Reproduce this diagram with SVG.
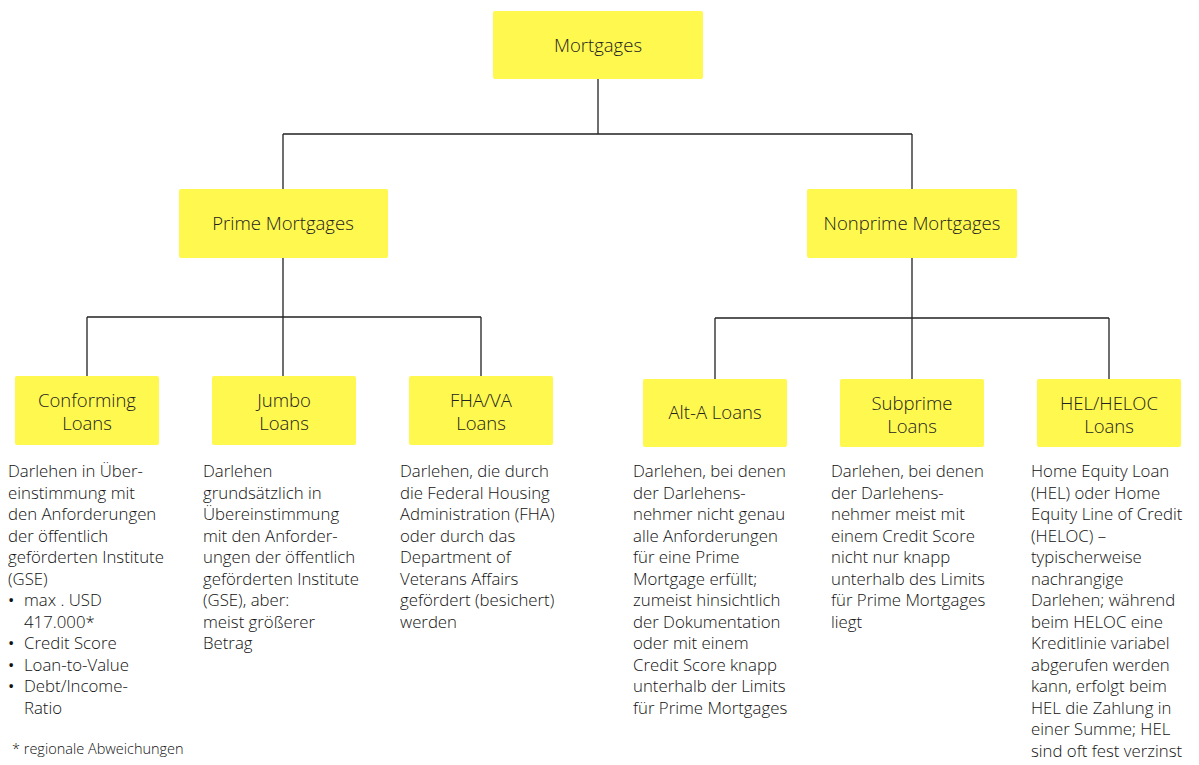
<svg xmlns="http://www.w3.org/2000/svg" width="1199" height="765" viewBox="0 0 1199 765">
<style>
.box{fill:#FFF84F;}
.lbl{font-family:"Open Sans","Liberation Sans",sans-serif;font-size:18.5px;font-weight:300;fill:#222;text-anchor:middle;}
.txt{font-family:"Open Sans","Liberation Sans",sans-serif;font-size:16.8px;font-weight:300;fill:#111;}
.bul{font-family:"Open Sans","Liberation Sans",sans-serif;font-size:16.8px;font-weight:400;fill:#111;}
.note{font-family:"Open Sans","Liberation Sans",sans-serif;font-size:14.5px;font-weight:300;fill:#111;}
.con{stroke:#222;stroke-width:1.3;fill:none;}
</style>
<rect width="1199" height="765" fill="#fff"/>
<g id="connectors">
<path class="con" d="M598 79V134M283 134H912M283 134V189M912 134V189"/>
<path class="con" d="M283 258V376M87 317H481M87 317V376M481 317V376"/>
<path class="con" d="M912 258V379M715 318H1109M715 318V379M1109 318V379"/>
</g>
<g id="mortgages"><rect class="box" x="493" y="11" width="210" height="68" rx="2"/><text class="lbl" x="598" y="52">Mortgages</text></g>
<g id="prime"><rect class="box" x="179" y="189" width="209" height="69" rx="2"/><text class="lbl" x="283" y="230">Prime Mortgages</text></g>
<g id="nonprime"><rect class="box" x="807" y="189" width="210" height="69" rx="2"/><text class="lbl" x="912" y="230">Nonprime Mortgages</text></g>
<g id="conforming"><rect class="box" x="15" y="376" width="144" height="69" rx="2"/><text class="lbl" x="87" y="407">Conforming</text><text class="lbl" x="87" y="430">Loans</text>
<text class="txt" x="8" y="477">Darlehen in Über-</text>
<text class="txt" x="8" y="498.5">einstimmung mit</text>
<text class="txt" x="8" y="520">den Anforderungen</text>
<text class="txt" x="8" y="541.5">der öffentlich</text>
<text class="txt" x="8" y="563">geförderten Institute</text>
<text class="txt" x="8" y="584.5">(GSE)</text>
<text class="bul" x="8" y="606">•</text><text class="txt" x="24" y="606">max . USD</text>
<text class="txt" x="24" y="627.5">417.000*</text>
<text class="bul" x="8" y="649">•</text><text class="txt" x="24" y="649">Credit Score</text>
<text class="bul" x="8" y="670.5">•</text><text class="txt" x="24" y="670.5">Loan-to-Value</text>
<text class="bul" x="8" y="692">•</text><text class="txt" x="24" y="692">Debt/Income-</text>
<text class="txt" x="24" y="713.5">Ratio</text>
<text class="note" x="12" y="754">* regionale Abweichungen</text>
</g>
<g id="jumbo"><rect class="box" x="212" y="376" width="144" height="69" rx="2"/><text class="lbl" x="284" y="407">Jumbo</text><text class="lbl" x="284" y="430">Loans</text>
<text class="txt" x="203" y="477">Darlehen</text>
<text class="txt" x="203" y="498.5">grundsätzlich in</text>
<text class="txt" x="203" y="520">Übereinstimmung</text>
<text class="txt" x="203" y="541.5">mit den Anforder-</text>
<text class="txt" x="203" y="563">ungen der öffentlich</text>
<text class="txt" x="203" y="584.5">geförderten Institute</text>
<text class="txt" x="203" y="606">(GSE), aber:</text>
<text class="txt" x="203" y="627.5">meist größerer</text>
<text class="txt" x="203" y="649">Betrag</text>
</g>
<g id="fhava"><rect class="box" x="409" y="376" width="144" height="69" rx="2"/><text class="lbl" x="481" y="407">FHA/VA</text><text class="lbl" x="481" y="430">Loans</text>
<text class="txt" x="400" y="477">Darlehen, die durch</text>
<text class="txt" x="400" y="498.5">die Federal Housing</text>
<text class="txt" x="400" y="520">Administration (FHA)</text>
<text class="txt" x="400" y="541.5">oder durch das</text>
<text class="txt" x="400" y="563">Department of</text>
<text class="txt" x="400" y="584.5">Veterans Affairs</text>
<text class="txt" x="400" y="606">gefördert (besichert)</text>
<text class="txt" x="400" y="627.5">werden</text>
</g>
<g id="alta"><rect class="box" x="643" y="379" width="144" height="68" rx="2"/><text class="lbl" x="715" y="419">Alt-A Loans</text>
<text class="txt" x="633" y="477">Darlehen, bei denen</text>
<text class="txt" x="633" y="498.5">der Darlehens-</text>
<text class="txt" x="633" y="520">nehmer nicht genau</text>
<text class="txt" x="633" y="541.5">alle Anforderungen</text>
<text class="txt" x="633" y="563">für eine Prime</text>
<text class="txt" x="633" y="584.5">Mortgage erfüllt;</text>
<text class="txt" x="633" y="606">zumeist hinsichtlich</text>
<text class="txt" x="633" y="627.5">der Dokumentation</text>
<text class="txt" x="633" y="649">oder mit einem</text>
<text class="txt" x="633" y="670.5">Credit Score knapp</text>
<text class="txt" x="633" y="692">unterhalb der Limits</text>
<text class="txt" x="633" y="713.5">für Prime Mortgages</text>
</g>
<g id="subprime"><rect class="box" x="840" y="379" width="144" height="68" rx="2"/><text class="lbl" x="912" y="410">Subprime</text><text class="lbl" x="912" y="433">Loans</text>
<text class="txt" x="831" y="477">Darlehen, bei denen</text>
<text class="txt" x="831" y="498.5">der Darlehens-</text>
<text class="txt" x="831" y="520">nehmer meist mit</text>
<text class="txt" x="831" y="541.5">einem Credit Score</text>
<text class="txt" x="831" y="563">nicht nur knapp</text>
<text class="txt" x="831" y="584.5">unterhalb des Limits</text>
<text class="txt" x="831" y="606">für Prime Mortgages</text>
<text class="txt" x="831" y="627.5">liegt</text>
</g>
<g id="helheloc"><rect class="box" x="1037" y="379" width="144" height="68" rx="2"/><text class="lbl" x="1109" y="410">HEL/HELOC</text><text class="lbl" x="1109" y="433">Loans</text>
<text class="txt" x="1031" y="477">Home Equity Loan</text>
<text class="txt" x="1031" y="498.5">(HEL) oder Home</text>
<text class="txt" x="1031" y="520">Equity Line of Credit</text>
<text class="txt" x="1031" y="541.5">(HELOC) –</text>
<text class="txt" x="1031" y="563">typischerweise</text>
<text class="txt" x="1031" y="584.5">nachrangige</text>
<text class="txt" x="1031" y="606">Darlehen; während</text>
<text class="txt" x="1031" y="627.5">beim HELOC eine</text>
<text class="txt" x="1031" y="649">Kreditlinie variabel</text>
<text class="txt" x="1031" y="670.5">abgerufen werden</text>
<text class="txt" x="1031" y="692">kann, erfolgt beim</text>
<text class="txt" x="1031" y="713.5">HEL die Zahlung in</text>
<text class="txt" x="1031" y="735">einer Summe; HEL</text>
<text class="txt" x="1031" y="756.5">sind oft fest verzinst</text>
</g>
</svg>
